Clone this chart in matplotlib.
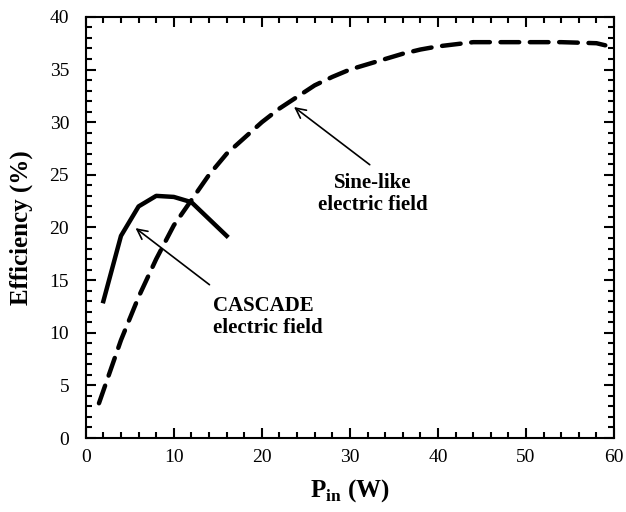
import numpy as np
import matplotlib.pyplot as plt
from matplotlib.ticker import MultipleLocator

plt.rcParams["font.family"] = ["Liberation Serif", "DejaVu Serif"]
plt.rcParams["mathtext.fontset"] = "custom"
plt.rcParams["mathtext.bf"] = "Liberation Serif:bold"
plt.rcParams["mathtext.rm"] = "Liberation Serif"

# CASCADE electric field (solid)
p_cascade = [2, 4, 6, 8, 10, 12, 14, 16]
eff_cascade = [13.0, 19.2, 22.0, 23.0, 22.9, 22.4, 20.8, 19.2]

# Sine-like electric field (dashed)
p_sine = [1.5, 4, 6, 8, 10, 12, 14, 16, 18, 20, 22, 24, 26, 28, 30, 32,
          34, 36, 38, 40, 42, 44, 46, 50, 54, 58, 59]
eff_sine = [3.3, 9.3, 13.4, 17.0, 20.2, 22.6, 25.0, 27.0, 28.5, 30.0, 31.3,
            32.4, 33.5, 34.3, 35.0, 35.5, 36.0, 36.5, 36.9, 37.2, 37.4, 37.6,
            37.6, 37.6, 37.6, 37.5, 37.3]

fig = plt.figure(figsize=(6.26, 5.12), dpi=100)
ax = fig.add_axes([0.137, 0.1445, 0.844, 0.8225])

ax.plot(p_cascade, eff_cascade, color="black", lw=3.2, solid_joinstyle="round")
ax.plot(p_sine, eff_sine, color="black", lw=3.2, dashes=(4.2, 2.4),
        dash_capstyle="round")

ax.set_xlim(0, 60)
ax.set_ylim(0, 40)
ax.xaxis.set_major_locator(MultipleLocator(10))
ax.xaxis.set_minor_locator(MultipleLocator(2))
ax.yaxis.set_major_locator(MultipleLocator(5))
ax.yaxis.set_minor_locator(MultipleLocator(1))
ax.tick_params(which="both", direction="in", top=True, right=True,
               width=1.5, labelsize=14)
ax.tick_params(which="major", length=7)
ax.tick_params(which="minor", length=4)
ax.tick_params(axis="y", pad=12)
ax.tick_params(axis="x", pad=8)
for s in ax.spines.values():
    s.set_linewidth(1.5)

ax.set_xlabel(r"$\mathbf{P}_{\mathbf{in}}$ (W)", fontsize=18,
              fontweight="bold", labelpad=8)
ax.set_ylabel("Efficiency (%)", fontsize=18, fontweight="bold", labelpad=12)

arrow = dict(arrowstyle="->", color="black", lw=1.2, mutation_scale=18)
ax.annotate("", xy=(5.4, 20.1), xytext=(14.3, 14.4), arrowprops=arrow)
ax.text(14.4, 11.5, "CASCADE\nelectric field", fontsize=15,
        fontweight="bold", ha="left", va="center", linespacing=1.1)
ax.annotate("", xy=(23.4, 31.6), xytext=(32.5, 25.8), arrowprops=arrow)
ax.text(32.6, 23.2, "Sine-like\nelectric field", fontsize=15,
        fontweight="bold", ha="center", va="center", linespacing=1.1)

fig.savefig("out.png", dpi=100)
